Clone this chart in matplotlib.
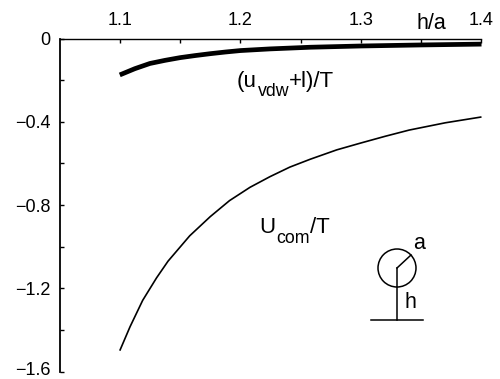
import matplotlib
matplotlib.use("Agg")
import matplotlib.pyplot as plt
from matplotlib.patches import Circle
from matplotlib.lines import Line2D
from matplotlib.ticker import MultipleLocator, FixedLocator
from matplotlib.transforms import Affine2D

plt.rcParams['font.family'] = ['Liberation Sans', 'DejaVu Sans']

W, H = 500, 379
h_a_thick = [1.1, 1.1125, 1.125, 1.1375, 1.15, 1.1625, 1.175, 1.1875, 1.2, 1.2245, 1.258, 1.3, 1.35, 1.4]
u_vdw = [-0.175, -0.145, -0.120, -0.105, -0.092, -0.082, -0.073, -0.065, -0.058, -0.050, -0.042, -0.036, -0.031, -0.027]
h_a_thin = [1.1, 1.1085, 1.119, 1.1305, 1.14, 1.158, 1.175, 1.191, 1.208, 1.2245, 1.241, 1.258, 1.28, 1.3, 1.32, 1.34, 1.37, 1.4]
u_com = [-1.50, -1.385, -1.258, -1.150, -1.070, -0.948, -0.856, -0.779, -0.715, -0.664, -0.618, -0.580, -0.535, -0.502, -0.470, -0.440, -0.405, -0.377]
x_ticks = [1.1, 1.2, 1.3, 1.4]
x_labels = ['1.1', '1.2', '1.3', '1.4']
y_ticks = [0, -0.4, -0.8, -1.2, -1.6]
y_labels = ['0', '\u22120.4', '\u22120.8', '\u22121.2', '\u22121.6']

fig = plt.figure(figsize=(W/100, H/100), dpi=100)
left, right, top, bottom = 59.5, 481.5, 38.5, 371.5
ax = fig.add_axes([left/W, 1-bottom/H, (right-left)/W, (bottom-top)/H])
ax.set_xlim(1.05, 1.4)
ax.set_ylim(-1.6, 0)
ax.plot(h_a_thick, u_vdw, color='black', lw=3.4, solid_capstyle='butt', solid_joinstyle='round')
ax.plot(h_a_thin, u_com, color='black', lw=1.2, solid_capstyle='butt', solid_joinstyle='round')

ax.xaxis.tick_top()
ax.set_xticks(x_ticks, x_labels)
ax.xaxis.set_minor_locator(FixedLocator([1.15, 1.25, 1.35]))
ax.set_yticks(y_ticks, y_labels)
ax.yaxis.set_minor_locator(MultipleLocator(0.2))
ax.tick_params(axis='x', which='both', direction='in', length=3.2, width=1.0, pad=6.5, labelsize=13)
ax.tick_params(axis='y', which='both', direction='in', length=3.2, width=1.0, pad=6.5, labelsize=13)
for lab in ax.get_yticklabels():
    lab.set_verticalalignment('center_baseline')
last = ax.get_yticklabels()[-1]
last.set_transform(last.get_transform() + Affine2D().translate(0, 3))
ax.spines['right'].set_visible(False)
ax.spines['bottom'].set_visible(False)
ax.spines['left'].set_linewidth(1.3)
ax.spines['top'].set_linewidth(1.0)

def px(x, y):
    return x/W, 1-y/H

tf = fig.transFigure
def txt(x, y, s, size):
    fx, fy = px(x, y)
    fig.text(fx, fy, s, fontsize=size, ha='left', va='baseline')

txt(416, 29, 'h/a', 15.5)
txt(237, 86.5, '(u', 16)
txt(257.5, 96, 'vdw', 12.8)
txt(289, 86.5, '+l)/T', 16)
txt(259.5, 232.5, 'U', 16)
txt(276.5, 243, 'com', 12.8)
txt(309.5, 232.5, '/T', 16)
txt(413.5, 249, 'a', 15.5)
txt(404, 308, 'h', 15.5)

# small geometry sketch, drawn in pixel-based figure coordinates
def line(x0, y0, x1, y1):
    a, b = px(x0, y0), px(x1, y1)
    fig.add_artist(Line2D([a[0], b[0]], [a[1], b[1]], transform=tf, color='black', lw=1.1))
line(397, 268, 397, 320)
line(371, 320, 423, 320)
line(397, 268, 411, 255)
c = Circle((397, H-268), 19, transform=None, fill=False, ec='black', lw=1.1)
fig.add_artist(c)

fig.savefig('out.png', dpi=100)
